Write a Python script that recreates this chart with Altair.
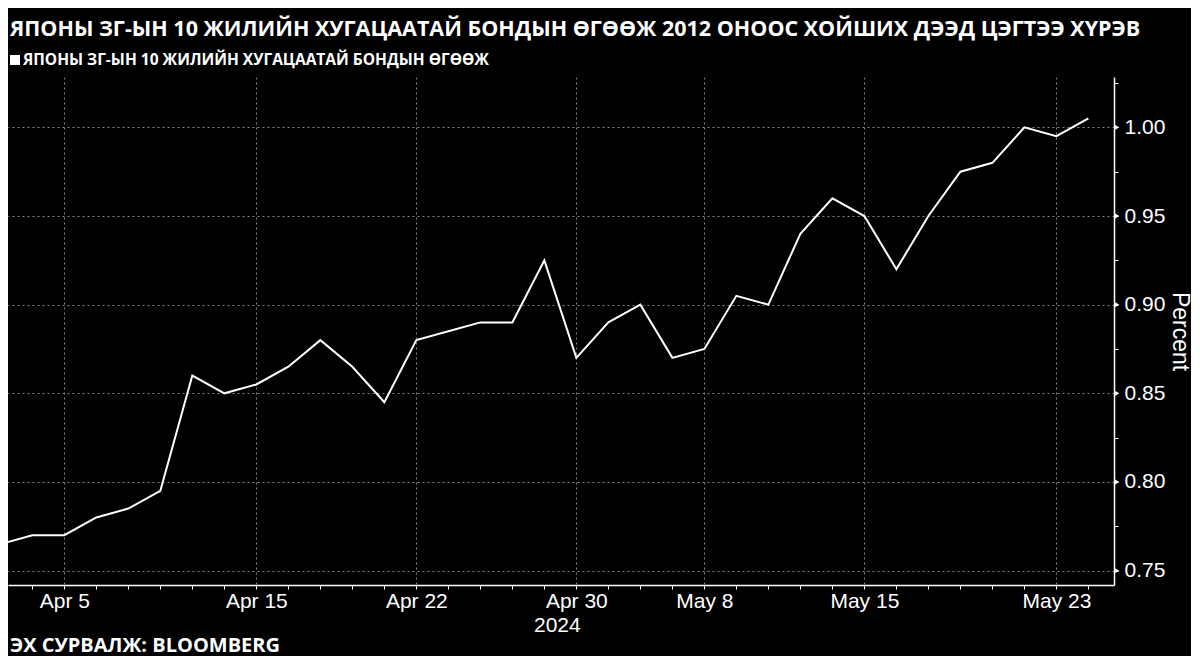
import json
import altair as alt
import pandas as pd

# ---- data ----
dates = ["Apr 3", "Apr 4", "Apr 5", "Apr 8", "Apr 9", "Apr 10", "Apr 11", "Apr 12",
         "Apr 15", "Apr 16", "Apr 17", "Apr 18", "Apr 19", "Apr 22", "Apr 23", "Apr 24",
         "Apr 25", "Apr 26", "Apr 30", "May 1", "May 2", "May 7", "May 8", "May 9",
         "May 10", "May 13", "May 14", "May 15", "May 16", "May 17", "May 20", "May 21",
         "May 22", "May 23", "May 24"]
yields = [0.765, 0.770, 0.770, 0.780, 0.785, 0.795, 0.860, 0.850,
          0.855, 0.865, 0.880, 0.865, 0.845, 0.880, 0.885, 0.890,
          0.890, 0.925, 0.870, 0.890, 0.900, 0.870, 0.875, 0.905,
          0.900, 0.940, 0.960, 0.950, 0.920, 0.950, 0.975, 0.980,
          1.000, 0.995, 1.005]
tick_labels = ["Apr 5", "Apr 15", "Apr 22", "Apr 30", "May 8", "May 15", "May 23"]
year_label = "2024"
year_under = "Apr 30"
y_ticks = [0.75, 0.775, 0.80, 0.825, 0.85, 0.875, 0.90, 0.925, 0.95, 0.975, 1.00, 1.025]
y_major = [0.75, 0.80, 0.85, 0.90, 0.95, 1.00]

title_text = "ЯПОНЫ ЗГ-ЫН 10 ЖИЛИЙН ХУГАЦААТАЙ БОНДЫН ӨГӨӨЖ 2012 ОНООС ХОЙШИХ ДЭЭД ЦЭГТЭЭ ХҮРЭВ"
subtitle_text = "ЯПОНЫ ЗГ-ЫН 10 ЖИЛИЙН ХУГАЦААТАЙ БОНДЫН ӨГӨӨЖ"
source_text = "ЭХ СУРВАЛЖ: BLOOMBERG"
y_title = "Percent"

# ---- build ----
W, H = 1106, 508
df = pd.DataFrame({"i": list(range(len(dates))), "date": dates, "yield": yields})
label_arr = [d if d in tick_labels else "" for d in dates]
tick_idx = [dates.index(t) for t in tick_labels]

x_scale = alt.Scale(domain=[0.24, 34.8], nice=False, zero=False)
y_scale = alt.Scale(domain=[0.7419, 1.0284], nice=False, zero=False)

LABEL_FONT = "Liberation Sans"
HEAD_FONT = "Open Sans"
GRID = "#858585"

x_axis = alt.Axis(
    values=list(range(len(dates))),
    tickCount=100,
    labelExpr=f"{json.dumps(label_arr)}[datum.value]",
    labelOverlap=False,
    labelFlush=False,
    labelFont=LABEL_FONT,
    labelFontSize=21,
    labelColor="white",
    labelPadding=1,
    tickColor="white",
    tickSize=4,
    domainColor="white",
    domainWidth=1.5,
    grid=True,
    gridColor=GRID,
    gridDash=[2, 3],
    gridWidth=1,
    gridOpacity={"condition": {"test": f"indexof({json.dumps(tick_idx)}, datum.value) >= 0",
                               "value": 1}, "value": 0},
    title=None,
)

major_test = "abs(datum.value*20 - round(datum.value*20)) < 0.001"
y_axis = alt.Axis(
    orient="right",
    values=y_ticks,
    tickCount=100,
    labelExpr=f"{major_test} ? format(datum.value, '.2f') : ''",
    labelOverlap=False,
    labelFlush=False,
    labelFont=LABEL_FONT,
    labelFontSize=21,
    labelColor="white",
    labelPadding=6,
    tickColor="white",
    tickSize=4,
    domainColor="white",
    domainWidth=1.5,
    grid=True,
    gridColor=GRID,
    gridDash=[2, 3],
    gridWidth=1,
    gridOpacity={"condition": {"test": major_test, "value": 1}, "value": 0},
    title=y_title,
    titleFont=LABEL_FONT,
    titleFontSize=23,
    titleFontWeight="normal",
    titleColor="white",
    titlePadding=3,
)

line = alt.Chart(df).mark_line(color="white", strokeWidth=2, clip=True).encode(
    x=alt.X("i:Q", scale=x_scale, axis=x_axis),
    y=alt.Y("yield:Q", scale=y_scale, axis=y_axis),
)

tri = alt.Chart(pd.DataFrame({"yield": y_major})).mark_point(
    shape="triangle-right", filled=True, color="white", opacity=1, size=28
).encode(
    x=alt.value(W + 3),
    y=alt.Y("yield:Q", scale=y_scale),
)

year = alt.Chart(pd.DataFrame({"i": [dates.index(year_under)], "t": [year_label]})).mark_text(
    align="center", baseline="alphabetic", font=LABEL_FONT, fontSize=21, color="white", dx=-19
).encode(
    x=alt.X("i:Q", scale=x_scale),
    y=alt.value(H + 47),
    text="t:N",
)

title = alt.Chart(pd.DataFrame({"t": [title_text]})).mark_text(
    align="left", baseline="top", font=HEAD_FONT, fontSize=21.5, fontWeight="bold", color="white"
).encode(
    x=alt.value(2),
    y=alt.value(-58),
    text="t:N",
)

subtitle = alt.Chart(pd.DataFrame({"t": [subtitle_text]})).mark_text(
    align="left", baseline="alphabetic", font=HEAD_FONT, fontSize=15.5, fontWeight="bold", color="white"
).encode(
    x=alt.value(15),
    y=alt.value(-12),
    text="t:N",
)

legend_sq = alt.Chart(pd.DataFrame({"t": [subtitle_text]})).mark_square(
    filled=True, color="white", opacity=1, size=100
).encode(
    x=alt.value(7),
    y=alt.value(-17),
)

source = alt.Chart(pd.DataFrame({"t": [source_text]})).mark_text(
    align="left", baseline="alphabetic", font=HEAD_FONT, fontSize=20, fontWeight="bold", color="white"
).encode(
    x=alt.value(2),
    y=alt.value(H + 67),
    text="t:N",
)

chart = alt.layer(line, tri, year, title, subtitle, legend_sq, source).properties(
    width=W,
    height=H,
    background="black",
    padding={"left": 0, "top": 11, "right": 0, "bottom": 0},
).configure_view(stroke=None)

chart.save("out.html", embed_options={"renderer": "svg", "actions": False})
